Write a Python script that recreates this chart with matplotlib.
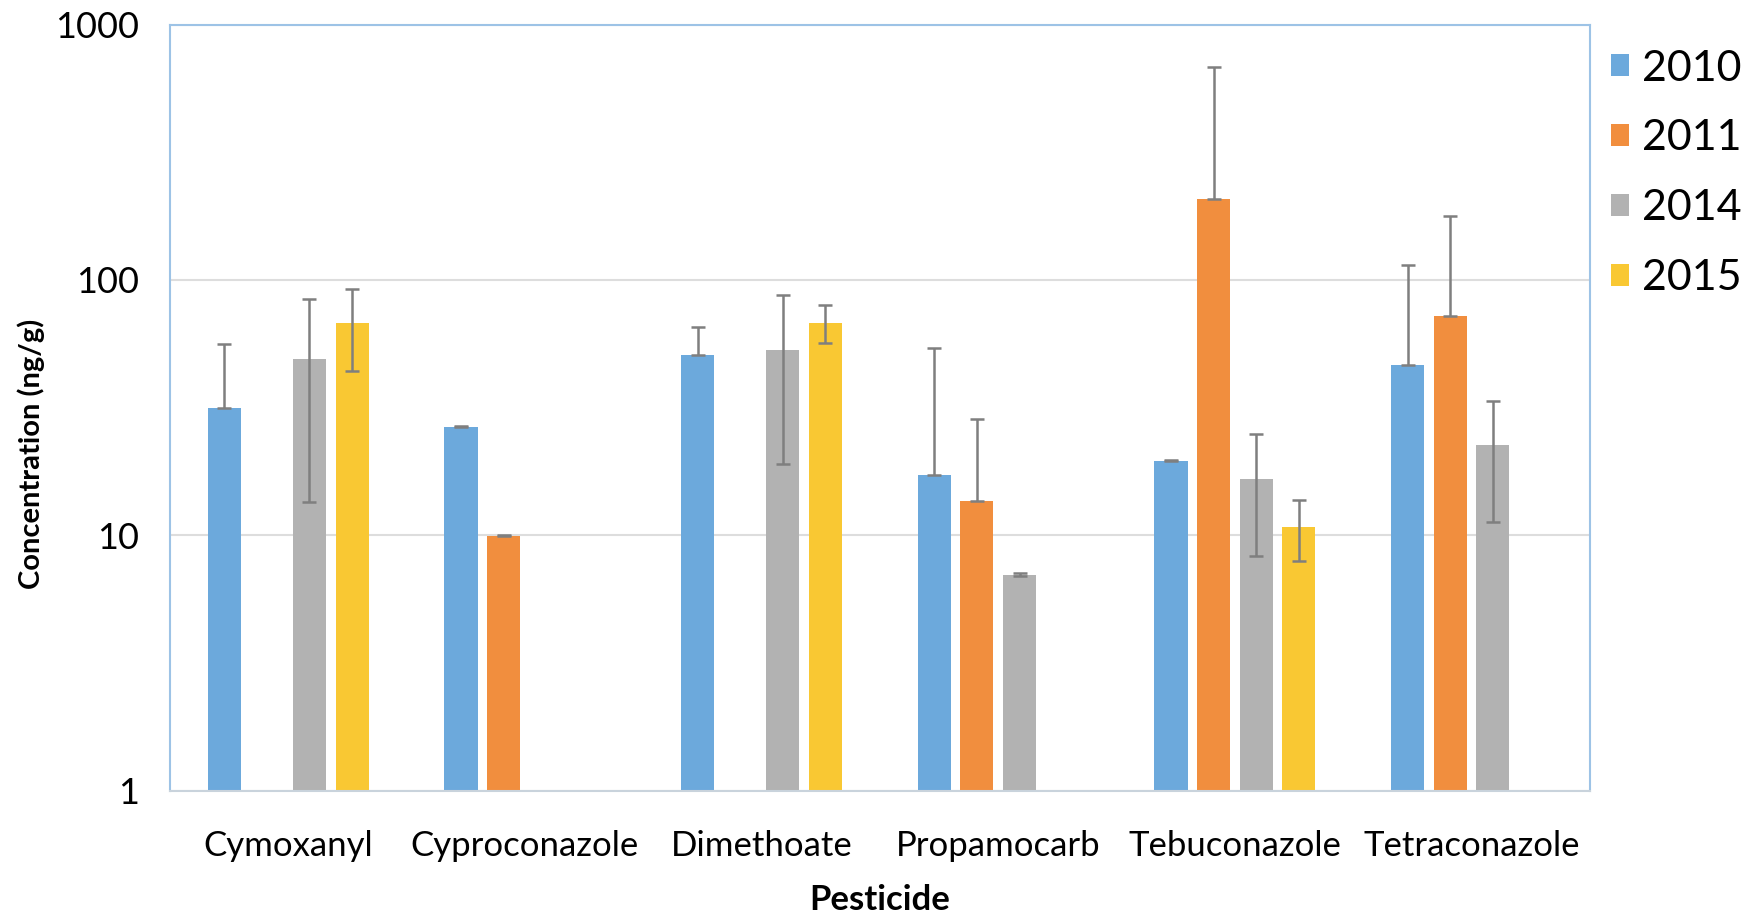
import numpy as np
import matplotlib.pyplot as plt

plt.rcParams['font.family'] = ['Lato', 'DejaVu Sans']

pesticides = ['Cymoxanyl', 'Cyproconazole', 'Dimethoate', 'Propamocarb',
              'Tebuconazole', 'Tetraconazole']
years = ['2010', '2011', '2014', '2015']

# mean concentrations (ng/g), nan = not detected that year
c2010 = [31.5, 26.5, 51.0, 17.3, 19.5, 46.5]
c2011 = [np.nan, 9.9, np.nan, 13.6, 208.0, 72.5]
c2014 = [49.0, np.nan, 53.0, 7.0, 16.6, 22.5]
c2015 = [68.0, np.nan, 68.0, np.nan, 10.8, np.nan]

# error bars (only upper part shown for 2010/2011)
e2010 = [24.5, 0.2, 14.5, 37.0, 0.2, 68.0]
e2011 = [np.nan, 0.1, np.nan, 15.0, 472.0, 106.0]
e2014 = [35.5, np.nan, 34.0, 0.1, 8.3, 11.2]
e2015 = [24.0, np.nan, 11.5, np.nan, 2.9, np.nan]

series = [c2010, c2011, c2014, c2015]
errors = [e2010, e2011, e2014, e2015]
upper_only = [True, True, False, False]
colors = ['#6CA9DC', '#F18E3E', '#B2B2B2', '#F9C833']

fig = plt.figure(figsize=(17.51, 9.13), dpi=100)
ax = fig.add_axes([0.097, 0.134, 0.811, 0.839])

x = np.arange(len(pesticides))
step = 0.18
width = 0.14
for i in range(4):
  vals = np.array(series[i], dtype=float)
  err = np.array(errors[i], dtype=float)
  pos = x + (i - 1.5) * step
  ok = ~np.isnan(vals)
  ax.bar(pos[ok], vals[ok], width, color=colors[i], label=years[i], zorder=2)
  lower = np.zeros(ok.sum()) if upper_only[i] else err[ok]
  ax.errorbar(pos[ok], vals[ok], yerr=[lower, err[ok]], fmt='none',
              ecolor='#7F7F7F', elinewidth=1.8, capsize=5, capthick=1.8,
              zorder=3)

ax.set_yscale('log')
ax.set_ylim(1, 1000)
ax.set_xlim(-0.5, len(pesticides) - 0.5)
ax.set_yticks([1, 10, 100, 1000])
ax.set_yticklabels(['1', '10', '100', '1000'])
ax.minorticks_off()
ax.set_xticks(x)
ax.set_xticklabels(pesticides)
ax.tick_params(axis='y', length=0, pad=22, labelsize=26)
ax.tick_params(axis='x', length=0, pad=28, labelsize=25)
ax.yaxis.grid(True, color='#DDDDDD', linewidth=1.5, zorder=0)
ax.set_axisbelow(True)

for s in ['top', 'left', 'right']:
  ax.spines[s].set_color('#9DC3E6')
  ax.spines[s].set_linewidth(1.5)
ax.spines['bottom'].set_color('#C9D3DC')
ax.spines['bottom'].set_linewidth(1.5)

ax.set_xlabel('Pesticide', fontsize=25, fontweight='bold')
ax.xaxis.set_label_coords(0.5, -0.122)
ax.set_ylabel('Concentration (ng/g)', fontsize=21, fontweight='bold')
ax.yaxis.set_label_coords(-0.088, 0.44)

leg = ax.legend(loc='upper left', bbox_to_anchor=(1.003, 0.99), frameon=False,
                fontsize=31, handlelength=0.42, handleheight=0.42,
                handletextpad=0.3, labelspacing=0.74, borderaxespad=0)

fig.savefig('out.png', dpi=100)
